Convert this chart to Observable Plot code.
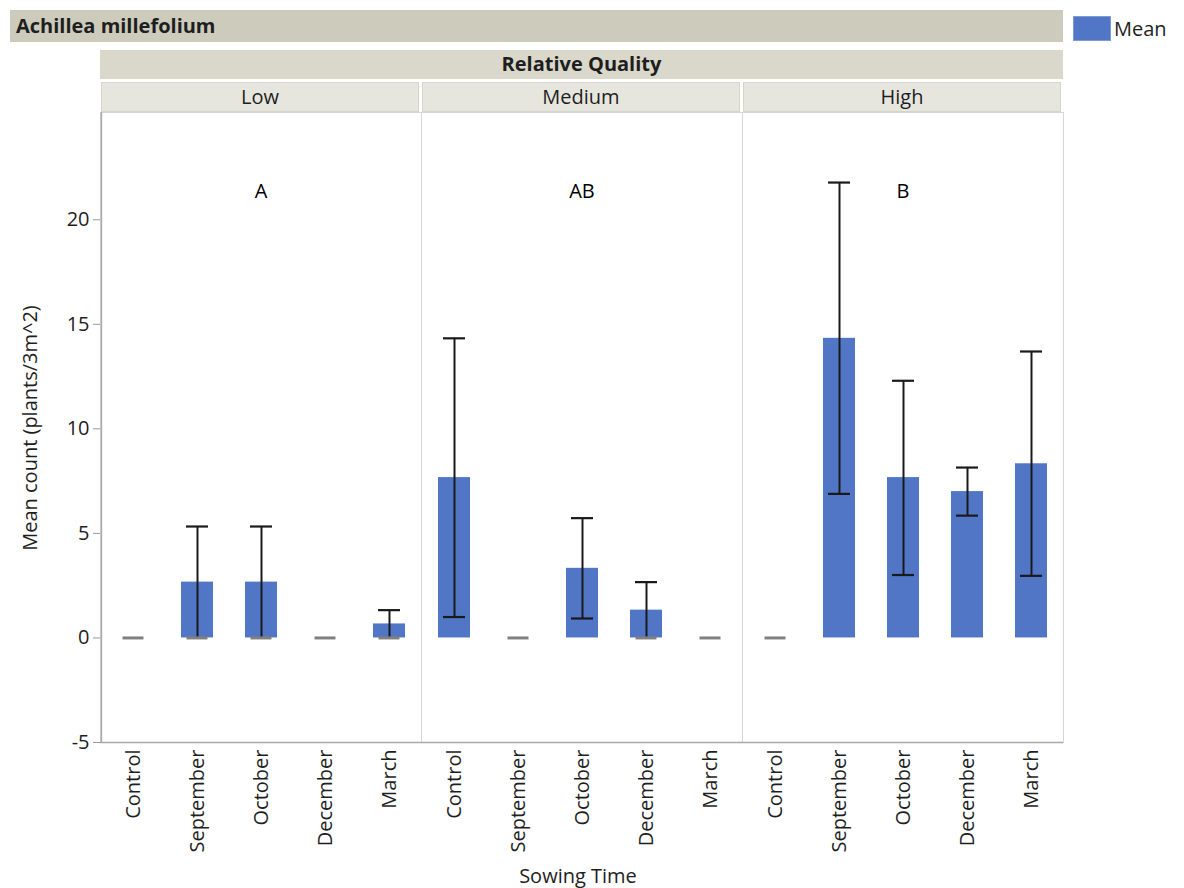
<!DOCTYPE html>
<html>
<head>
<meta charset="utf-8">
<script src="https://cdn.jsdelivr.net/npm/d3@7"></script>
<script src="https://cdn.jsdelivr.net/npm/@observablehq/plot@0.6"></script>
<style>
  html, body { margin: 0; padding: 0; background: #fff; }
  body { width: 1184px; height: 888px; position: relative; overflow: hidden;
         font-family: "Open Sans", "Noto Sans", sans-serif; color: #1e1e1e; }
  .bar { position: absolute; box-sizing: border-box; font-size: 20px; }
  #title { left: 10px; top: 10px; width: 1053px; height: 32px; background: #cdcbbc;
           font-weight: bold; line-height: 31px; padding-left: 6px; }
  #group { left: 100px; top: 50px; width: 963px; height: 29px; background: #dad8ca;
           font-weight: bold; line-height: 28px; text-align: center; }
  .facet { top: 82px; height: 30px; width: 318px; background: #e7e6de; border: 1px solid #d6d5cc;
           line-height: 27px; text-align: center; }
  #legend { position: absolute; left: 1073px; top: 14px; font-size: 20px; line-height: 26px; }
  #legend .swatch { display: inline-block; width: 38px; height: 25px; background: #5176c6;
                    border: 1px solid #7f9ad6; box-sizing: border-box; vertical-align: middle; margin-right: 3px; }
  #legend span { vertical-align: middle; }
  #chart { position: absolute; left: 0; top: 112px; }
  #ytitle { position: absolute; left: 29px; top: 428px; font-size: 20px; white-space: nowrap;
            transform: translate(-50%, -50%) rotate(-90deg); }
  #xtitle { position: absolute; left: 578px; top: 875px; font-size: 20px; white-space: nowrap;
            transform: translate(-50%, -50%); }
</style>
</head>
<body>
<div id="title" class="bar">Achillea millefolium</div>
<div id="legend"><div class="swatch"></div><span>Mean</span></div>
<div id="group" class="bar">Relative Quality</div>
<div id="facets"></div>
<div id="chart"></div>
<div id="ytitle">Mean count (plants/3m^2)</div>
<div id="xtitle">Sowing Time</div>
<script>
// Facet and category levels
const qualities = ["Low", "Medium", "High"];
const sowingTimes = ["Control", "September", "October", "December", "March"];

// Mean counts per sowing time, one array per quality level
const meanLow = [0, 2.67, 2.67, 0, 0.67];
const meanMedium = [7.67, 0, 3.33, 1.33, 0];
const meanHigh = [0, 14.33, 7.67, 7.0, 8.33];

// Error bar bounds
const lowerLow = [0, 0, 0, 0, 0];
const upperLow = [0, 5.33, 5.33, 0, 1.33];
const lowerMedium = [1.0, 0, 0.93, 0, 0];
const upperMedium = [14.33, 0, 5.73, 2.67, 0];
const lowerHigh = [0, 6.89, 3.01, 5.85, 2.97];
const upperHigh = [0, 21.78, 12.3, 8.15, 13.7];

// Significance group letters per quality level
const groupLetters = ["A", "AB", "B"];

// Y axis ticks
const yTicks = [-5, 0, 5, 10, 15, 20];

const means = {Low: meanLow, Medium: meanMedium, High: meanHigh};
const lowers = {Low: lowerLow, Medium: lowerMedium, High: lowerHigh};
const uppers = {Low: upperLow, Medium: upperMedium, High: upperHigh};

const rows = qualities.flatMap(q => sowingTimes.map((t, i) => ({
  q, t, mean: means[q][i], lo: lowers[q][i], hi: uppers[q][i]
})));

// Caps: zero-width intervals at 0 are drawn as grey dashes
const caps = rows.flatMap(d => {
  if (d.hi === d.lo) return [{q: d.q, t: d.t, y: d.lo, zero: true}];
  return [
    {q: d.q, t: d.t, y: d.hi, zero: d.hi === 0},
    {q: d.q, t: d.t, y: d.lo, zero: d.lo === 0}
  ];
});

const letterRows = qualities.map((q, i) => ({q, label: groupLetters[i]}));

// Facet header strips
const facetBox = document.getElementById("facets");
qualities.forEach((q, i) => {
  const div = document.createElement("div");
  div.className = "bar facet";
  div.style.left = (101 + i * 321) + "px";
  div.textContent = q;
  facetBox.appendChild(div);
});

const chart = Plot.plot({
  width: 1075,
  height: 776,
  marginLeft: 100,
  marginRight: 12,
  marginTop: 0,
  marginBottom: 146,
  style: {fontFamily: "'Open Sans', 'Noto Sans', sans-serif", fontSize: "20px", color: "#1e1e1e", background: "transparent", overflow: "visible"},
  fx: {domain: qualities, padding: 0, axis: null, label: null},
  x: {domain: sowingTimes, padding: 0, label: null},
  y: {domain: [-5, 25.13], label: null},
  marks: [
    Plot.frame({stroke: "#d6d6d6"}),
    Plot.ruleY([-5], {stroke: "#a9a9a9", strokeWidth: 1.5}),
    Plot.ruleX(["Low"], {fx: d => d, x: () => "Control", dx: -32.1, stroke: "#a9a9a9", strokeWidth: 1.5}),
    Plot.axisY({ticks: yTicks, tickFormat: d => String(d), tickSize: 7, tickPadding: 4, stroke: "#9a9a9a", fill: "#1e1e1e", label: null}),
    Plot.axisX({tickRotate: -90, tickSize: 0, tickPadding: 7, fill: "#1e1e1e", label: null}),
    Plot.barY(rows, {fx: "q", x: "t", y: "mean", fill: "#5176c6", insetLeft: 16, insetRight: 16}),
    Plot.ruleX(rows.filter(d => d.hi > d.lo), {fx: "q", x: "t", y1: "lo", y2: "hi", stroke: "#1a1a1a", strokeWidth: 2}),
    Plot.tickY(caps.filter(d => !d.zero), {fx: "q", x: "t", y: "y", stroke: "#1a1a1a", strokeWidth: 2.2, insetLeft: 21, insetRight: 21}),
    Plot.tickY(caps.filter(d => d.zero), {fx: "q", x: "t", y: "y", stroke: "#808080", strokeWidth: 3, insetLeft: 21.5, insetRight: 21.5}),
    Plot.text(letterRows, {fx: "q", text: "label", frameAnchor: "top", dy: 71, fontSize: 20, fill: "#000"})
  ]
});
document.getElementById("chart").appendChild(chart);
</script>
</body>
</html>
